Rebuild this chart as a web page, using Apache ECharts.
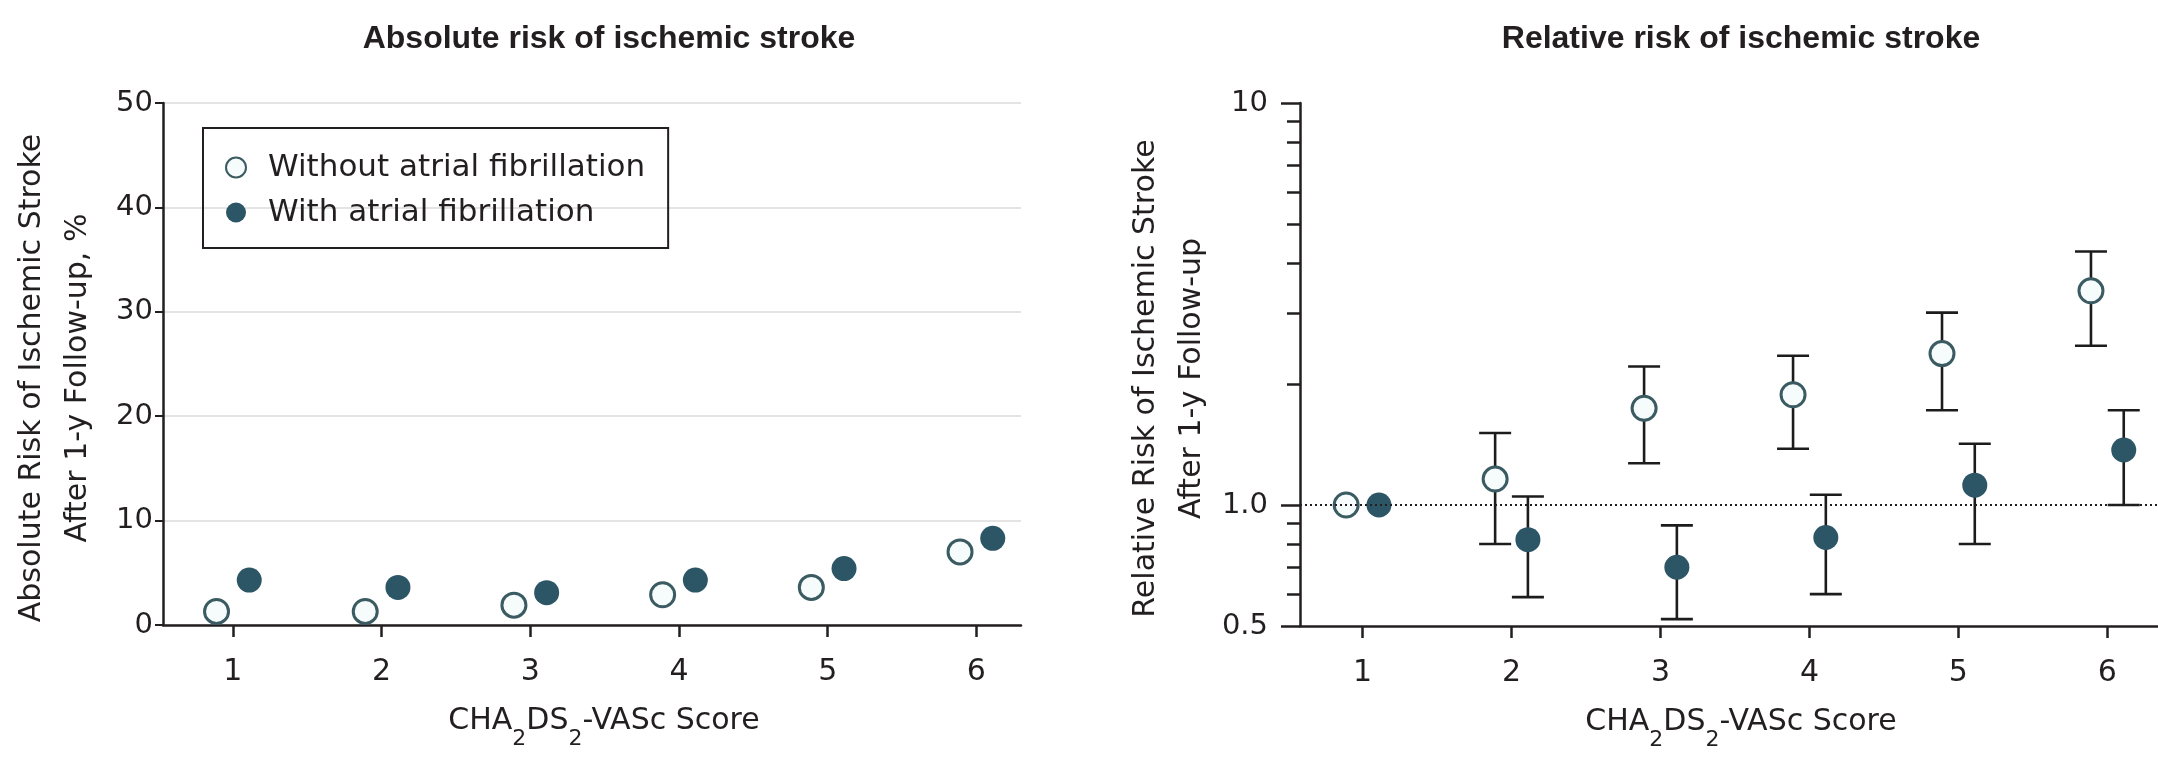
<!DOCTYPE html>
<html>
<head>
<meta charset="utf-8">
<script src="https://cdn.jsdelivr.net/npm/echarts@6/dist/echarts.min.js"></script>
<style>
  html, body { margin: 0; padding: 0; background: #ffffff; }
  #chart { width: 2158px; height: 759px; }
</style>
</head>
<body>
<div id="chart"></div>
<script>
// CHA2DS2-VASc score categories
const scores = [1, 2, 3, 4, 5, 6];

// Absolute 1-year risk of ischemic stroke, %
const absWithout = [1.3, 1.3, 1.9, 2.9, 3.6, 7.0];
const absWith = [4.3, 3.6, 3.1, 4.3, 5.4, 8.3];

// Relative risk (score 1 without AF is the reference) with 95% CI
const rrWithout = [1.0, 1.16, 1.74, 1.88, 2.38, 3.41];
const rrWithoutLow = [null, 0.80, 1.27, 1.38, 1.72, 2.49];
const rrWithoutHigh = [null, 1.51, 2.21, 2.35, 3.01, 4.27];
const rrWith = [1.0, 0.82, 0.70, 0.83, 1.12, 1.37];
const rrWithLow = [null, 0.59, 0.52, 0.60, 0.80, 1.00];
const rrWithHigh = [null, 1.05, 0.89, 1.06, 1.42, 1.72];

// Axis ticks
const absTicks = [0, 10, 20, 30, 40, 50];
const rrLabelTicks = [0.5, 1, 10];
const rrMajorTicks = [0.5, 1, 10];
const rrMinorTicks = [0.6, 0.7, 0.8, 0.9, 2, 3, 4, 5, 6, 7, 8, 9];

const names = ['Without atrial fibrillation', 'With atrial fibrillation'];

const INK = '#231f20';
const TEAL = '#2c5566';
const RING = '#3b5b62';
const RING_FILL = '#f6fbfc';
const SHIFT = 0.11;          // horizontal dodge of the two groups
const TICK_FONT = 'DejaVu Sans';
const TITLE_FONT = 'Liberation Sans';

const pairs = (xs, ys, dx) => xs.map((x, i) => [x + dx, ys[i]]);
const bars = (xs, lo, hi, dx) => xs
  .map((x, i) => [x + dx, lo[i], hi[i]])
  .filter(d => d[1] != null && d[2] != null);

const xName = '{t|CHA}{s|2}{t|DS}{s|2}{t|-VASc Score}';
const xNameStyle = {
  rich: {
    t: { fontSize: 30, fontFamily: TICK_FONT, color: INK, verticalAlign: 'top', lineHeight: 34 },
    s: { fontSize: 22, fontFamily: TICK_FONT, color: INK, verticalAlign: 'top', lineHeight: 22, padding: [22, 0, 0, 0] }
  },
  padding: [0, 0, 0, 24]
};

function xAxisFor(gridIndex, min, max) {
  return {
    type: 'value', gridIndex, min, max,
    axisLine: { show: true, onZero: false, lineStyle: { color: INK, width: 2.5 } },
    axisTick: { show: true, customValues: scores, length: 12, lineStyle: { color: INK, width: 2.5 } },
    axisLabel: { customValues: scores, fontSize: 30, fontFamily: TICK_FONT, color: INK, margin: 32 },
    splitLine: { show: false },
    name: xName, nameLocation: 'middle', nameGap: 81, nameTextStyle: xNameStyle
  };
}

function errorBarItem(params, api) {
  const x = api.value(0);
  const top = api.coord([x, api.value(2)]);
  const bot = api.coord([x, api.value(1)]);
  const half = 16;
  const style = { stroke: '#1c1c1c', lineWidth: 2.6 };
  return {
    type: 'group',
    children: [
      { type: 'line', shape: { x1: top[0], y1: top[1], x2: bot[0], y2: bot[1] }, style },
      { type: 'line', shape: { x1: top[0] - half, y1: top[1], x2: top[0] + half, y2: top[1] }, style },
      { type: 'line', shape: { x1: bot[0] - half, y1: bot[1], x2: bot[0] + half, y2: bot[1] }, style }
    ]
  };
}

const openStyle = { color: RING_FILL, borderColor: RING, borderWidth: 3, opacity: 1 };
const filledStyle = { color: TEAL, borderColor: TEAL, borderWidth: 0, opacity: 1 };

const yNameStyle = { fontSize: 30, fontFamily: TICK_FONT, color: INK, lineHeight: 46, padding: [0, 28, 0, 0] };

const option = {
  backgroundColor: '#ffffff',
  animation: false,
  title: [
    { text: 'Absolute risk of ischemic stroke', left: 604, top: 18, textAlign: 'center',
      textStyle: { fontFamily: TITLE_FONT, fontWeight: 'bold', fontSize: 32, color: INK } },
    { text: 'Relative risk of ischemic stroke', left: 1736, top: 18, textAlign: 'center',
      textStyle: { fontFamily: TITLE_FONT, fontWeight: 'bold', fontSize: 32, color: INK } }
  ],
  legend: {
    data: names,
    orient: 'vertical',
    left: 203, top: 128,
    padding: [24, 23, 20, 22],
    itemWidth: 20, itemHeight: 20, itemGap: 14,
    borderColor: INK, borderWidth: 2,
    selectedMode: false,
    textStyle: { fontFamily: TICK_FONT, fontSize: 31, color: INK, lineHeight: 24, padding: [0, 0, 0, 17] }
  },
  grid: [
    { left: 163, top: 103, width: 858, height: 522 },
    { left: 1300, top: 103, width: 858, height: 523 }
  ],
  xAxis: [
    xAxisFor(0, 0.53, 6.30),
    xAxisFor(1, 0.58, 6.34)
  ],
  yAxis: [
    {
      type: 'value', gridIndex: 0, position: 'left', min: 0, max: 50, interval: 10,
      axisLine: { show: true, lineStyle: { color: INK, width: 2.5 } },
      axisTick: { show: true, length: 8, lineStyle: { color: INK, width: 2 } },
      axisLabel: { fontSize: 29, fontFamily: TICK_FONT, color: INK, margin: 10,
        customValues: absTicks },
      splitLine: { show: true, lineStyle: { color: '#e4e4e4', width: 2 } },
      name: 'Absolute Risk of Ischemic Stroke\nAfter 1-y Follow-up, %',
      nameLocation: 'middle', nameRotate: 90, nameGap: 62,
      nameTextStyle: yNameStyle
    },
    {
      type: 'log', logBase: 10, gridIndex: 1, position: 'left', offset: 0, min: 0.5, max: 10,
      axisLine: { show: true, lineStyle: { color: INK, width: 2.5 } },
      axisTick: { show: true, customValues: rrMajorTicks, length: 19, lineStyle: { color: INK, width: 2.5 } },
      axisLabel: { customValues: rrLabelTicks, fontSize: 29, fontFamily: TICK_FONT, color: INK, margin: 32,
        formatter: v => (v >= 10 ? String(Math.round(v)) : Number(v).toFixed(1)) },
      splitLine: { show: false },
      name: 'Relative Risk of Ischemic Stroke\nAfter 1-y Follow-up',
      nameLocation: 'middle', nameRotate: 90, nameGap: 85,
      nameTextStyle: yNameStyle
    },
    {
      // minor ticks of the log axis, sharing the same left edge
      type: 'log', logBase: 10, gridIndex: 1, position: 'left', offset: 0, min: 0.5, max: 10,
      axisLine: { show: false },
      axisTick: { show: true, customValues: rrMinorTicks, length: 13, lineStyle: { color: INK, width: 2.5 } },
      axisLabel: { show: false },
      splitLine: { show: false }
    }
  ],
  series: [
    {
      name: names[0], type: 'scatter', xAxisIndex: 0, yAxisIndex: 0,
      symbol: 'circle', symbolSize: 24, itemStyle: openStyle, z: 4,
      data: pairs(scores, absWithout, -SHIFT)
    },
    {
      name: names[1], type: 'scatter', xAxisIndex: 0, yAxisIndex: 0,
      symbol: 'circle', symbolSize: 25, itemStyle: filledStyle, z: 4,
      data: pairs(scores, absWith, SHIFT)
    },
    {
      type: 'custom', xAxisIndex: 1, yAxisIndex: 1, z: 2, silent: true,
      renderItem: errorBarItem,
      data: bars(scores, rrWithoutLow, rrWithoutHigh, -SHIFT),
      markLine: {
        silent: true, symbol: 'none', label: { show: false },
        lineStyle: { color: INK, width: 2, type: [2, 3] },
        data: [{ yAxis: 1 }]
      }
    },
    {
      type: 'custom', xAxisIndex: 1, yAxisIndex: 1, z: 2, silent: true,
      renderItem: errorBarItem,
      data: bars(scores, rrWithLow, rrWithHigh, SHIFT)
    },
    {
      name: names[0], type: 'scatter', xAxisIndex: 1, yAxisIndex: 1,
      symbol: 'circle', symbolSize: 24, itemStyle: openStyle, z: 4,
      data: pairs(scores, rrWithout, -SHIFT)
    },
    {
      name: names[1], type: 'scatter', xAxisIndex: 1, yAxisIndex: 1,
      symbol: 'circle', symbolSize: 25, itemStyle: filledStyle, z: 4,
      data: pairs(scores, rrWith, SHIFT)
    }
  ]
};

const chart = echarts.init(document.getElementById('chart'), null, { renderer: 'canvas' });
chart.setOption(option);
</script>
</body>
</html>
